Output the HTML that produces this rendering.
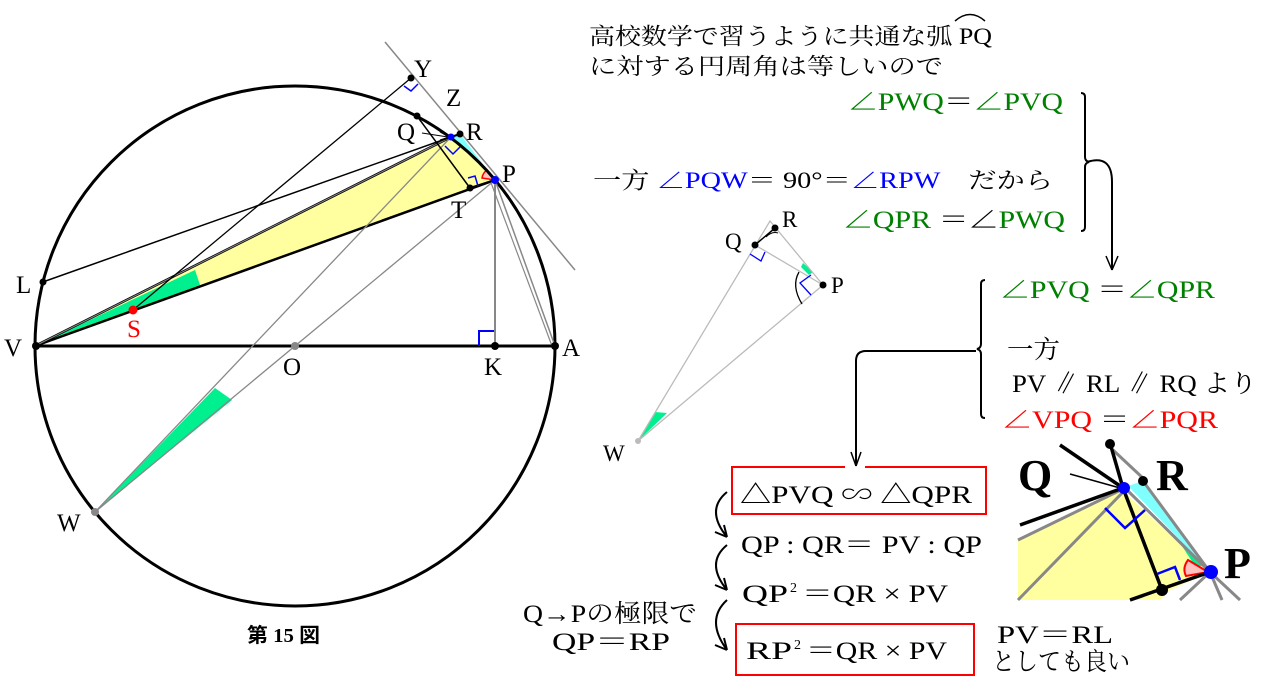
<!DOCTYPE html>
<html><head><meta charset="utf-8"><style>
body{margin:0;background:#fff;}
svg{display:block;}
text{font-family:"Liberation Serif","Noto Serif CJK SC",serif;}
.j{font-family:"Liberation Serif","Noto Sans CJK JP",sans-serif;}
</style></head><body>
<svg width="1269" height="696" viewBox="0 0 1269 696" xmlns="http://www.w3.org/2000/svg">
<!-- main figure -->
<polygon points="35,346 451,137 495,180" fill="#ffffa0"/>
<polygon points="35,346 195,270 200,285" fill="#00f090"/>
<polygon points="451,137 460,134 495,180" fill="#80ffff"/>
<polygon points="95,512 215,388 232,400" fill="#00f090"/>
<path d="M482,178 a12,12 0 0 1 5,-8 L495,180 Z" fill="#ffc0c0" stroke="red" stroke-width="1.5"/>
<circle cx="295" cy="346" r="260" fill="none" stroke="#000" stroke-width="3"/>
<line x1="35" y1="346" x2="555" y2="346" stroke="#000" stroke-width="3"/>
<line x1="385" y1="42" x2="575" y2="270" stroke="#888" stroke-width="1.5"/>
<line x1="35" y1="346" x2="451" y2="137" stroke="#000" stroke-width="2.5"/>
<line x1="35" y1="346" x2="495" y2="180" stroke="#000" stroke-width="2.5"/>
<line x1="35" y1="346" x2="451" y2="137" stroke="#888" stroke-width="1"/>
<line x1="40" y1="283" x2="451" y2="137" stroke="#000" stroke-width="1.5"/>
<line x1="133" y1="310" x2="411" y2="78" stroke="#000" stroke-width="1.3"/>
<line x1="95" y1="512" x2="451" y2="137" stroke="#888" stroke-width="1.3"/>
<line x1="95" y1="512" x2="495" y2="180" stroke="#888" stroke-width="1.3"/>
<line x1="495" y1="180" x2="495" y2="346" stroke="#888" stroke-width="2"/>
<line x1="495" y1="180" x2="555" y2="346" stroke="#888" stroke-width="1.5"/>
<line x1="490" y1="180" x2="552" y2="346" stroke="#888" stroke-width="1.2"/>
<line x1="417" y1="116" x2="470" y2="188" stroke="#000" stroke-width="1.5"/>
<line x1="451" y1="137" x2="460" y2="134" stroke="#000" stroke-width="2"/>
<line x1="470" y1="188" x2="495" y2="180" stroke="#000" stroke-width="2"/>
<line x1="422" y1="133" x2="448" y2="137" stroke="#000" stroke-width="1"/>
<path d="M440,132 L449,137 L440,140" fill="none" stroke="#000" stroke-width="1"/>
<polyline points="404,86 411,91 418,84" fill="none" stroke="blue" stroke-width="1.5"/>
<polyline points="445,146 453,154 460,147" fill="none" stroke="blue" stroke-width="1.5"/>
<polyline points="468,178 475,176 478,186" fill="none" stroke="blue" stroke-width="1.5"/>
<path d="M479,346 V331 H494" fill="none" stroke="blue" stroke-width="2"/>
<g fill="#000">
<circle cx="411" cy="78" r="3.5"/><circle cx="417" cy="116" r="3.5"/><circle cx="460" cy="134" r="3.5"/>
<circle cx="470" cy="188" r="3.5"/><circle cx="495" cy="346" r="4"/><circle cx="555" cy="346" r="4"/>
<circle cx="36" cy="346" r="4"/><circle cx="43" cy="282" r="3.5"/></g>
<circle cx="451" cy="137" r="3.5" fill="blue"/><circle cx="495" cy="180" r="4" fill="blue"/>
<circle cx="133" cy="310" r="4.5" fill="red"/>
<circle cx="295" cy="346" r="4" fill="#888"/><circle cx="95" cy="512" r="4" fill="#888"/>
<g font-size="25" fill="#000">
<text x="414" y="77">Y</text><text x="446" y="106">Z</text><text x="397" y="140">Q</text><text x="466" y="140">R</text>
<text x="502" y="182">P</text><text x="451" y="218">T</text><text x="16" y="293">L</text><text x="4" y="356">V</text>
<text x="283" y="375">O</text><text x="484" y="375">K</text><text x="562" y="356">A</text><text x="57" y="531">W</text>
<text x="127" y="337" fill="red">S</text></g>
<text x="247" y="642" font-size="20" font-weight="bold" class="j" textLength="73" lengthAdjust="spacingAndGlyphs">第 15 図</text>

<!-- middle small triangle -->
<polygon points="638,441 655,412 667,413" fill="#00f090"/>
<polygon points="801,267 803,263 813,272 809,275" fill="#00f090"/>
<g stroke="#bbb" stroke-width="1.3" fill="none">
<polyline points="638,441 770,221 823,285 638,441"/>
<line x1="755" y1="245" x2="823" y2="285"/></g>
<line x1="755" y1="245" x2="775" y2="228" stroke="#000" stroke-width="1.5"/>
<path d="M766,237 q6,-6 12,-4" fill="none" stroke="#000"/>
<path d="M799,272 q-8,14 3,32" fill="none" stroke="#000" stroke-width="1.3"/>
<polyline points="750,254 761,261 765,252" fill="none" stroke="blue" stroke-width="1.3"/>
<polyline points="811,275 800,283 811,295" fill="none" stroke="blue" stroke-width="1.3"/>
<circle cx="755" cy="245" r="3.5"/><circle cx="775" cy="228" r="3.5"/><circle cx="823" cy="285" r="3.5"/>
<circle cx="638" cy="441" r="3" fill="#bbb"/>
<g font-size="23"><text x="725" y="249">Q</text><text x="782" y="227">R</text><text x="831" y="293">P</text><text x="603" y="461">W</text></g>

<!-- texts -->
<g class="j" font-size="23">
<text x="589" y="44" textLength="403" lengthAdjust="spacingAndGlyphs">高校数学で習うように共通な弧 PQ</text>
<text x="589" y="74" textLength="354" lengthAdjust="spacingAndGlyphs">に対する円周角は等しいので</text>
<text x="593" y="188" textLength="460" lengthAdjust="spacingAndGlyphs">一方 <tspan fill="blue">∠PQW</tspan>＝ 90°＝<tspan fill="blue">∠RPW</tspan>　だから</text>
</g>
<path d="M955,21 q15,-13 30,0" fill="none" stroke="#000" stroke-width="1.5"/>
<g font-size="25" class="j">
<text x="848" y="110" fill="green" textLength="215" lengthAdjust="spacingAndGlyphs">∠PWQ<tspan fill="#000">＝</tspan>∠PVQ</text>
<text x="843" y="228" fill="green" textLength="222" lengthAdjust="spacingAndGlyphs">∠QPR <tspan fill="#000">＝∠</tspan>PWQ</text>
<text x="1000" y="298" fill="green" textLength="215" lengthAdjust="spacingAndGlyphs">∠PVQ <tspan fill="#000">＝</tspan>∠QPR</text>
<text x="1007" y="358" fill="#000" textLength="53" lengthAdjust="spacingAndGlyphs">一方</text>
<text x="1012" y="392" fill="#000" textLength="245" lengthAdjust="spacingAndGlyphs">PV ∥ RL ∥ RQ より</text>
<text x="1002" y="428" fill="red" textLength="216" lengthAdjust="spacingAndGlyphs">∠VPQ <tspan fill="#000">＝</tspan>∠PQR</text>
<text x="740" y="503" textLength="232" lengthAdjust="spacingAndGlyphs">△PVQ ∽ △QPR</text>
<text x="741" y="553" textLength="241" lengthAdjust="spacingAndGlyphs">QP : QR＝ PV : QP</text>
<text x="742" y="602" textLength="46" lengthAdjust="spacingAndGlyphs">QP</text>
<text x="790" y="592" font-size="14">2</text>
<text x="802" y="602" textLength="146" lengthAdjust="spacingAndGlyphs">＝QR × PV</text>
<text x="746" y="659" textLength="46" lengthAdjust="spacingAndGlyphs">RP</text>
<text x="794" y="649" font-size="14">2</text>
<text x="806" y="659" textLength="141" lengthAdjust="spacingAndGlyphs">＝QR × PV</text>
<text x="523" y="622" textLength="174" lengthAdjust="spacingAndGlyphs">Q→Pの極限で</text>
<text x="552" y="650" textLength="118" lengthAdjust="spacingAndGlyphs">QP＝RP</text>
<text x="997" y="643" textLength="116" lengthAdjust="spacingAndGlyphs">PV＝RL</text>
<text x="992" y="670" textLength="138" lengthAdjust="spacingAndGlyphs">としても良い</text>
</g>
<rect x="732" y="467" width="254" height="47" fill="none" stroke="red" stroke-width="2"/>
<rect x="736" y="624" width="238" height="51" fill="none" stroke="red" stroke-width="2"/>
<rect x="845" y="462" width="20" height="8" fill="#fff"/>
<!-- brackets and arrows -->
<g fill="none" stroke="#000" stroke-width="2">
<path d="M1081,93 q4,0 4,4 v60 q0,4 4,5 q-4,1 -4,5 v60 q0,4 -4,4"/>
<path d="M1087,162 q25,-8 25,20 v88"/>
<path d="M1112,270 l-6,-14 M1112,270 l6,-14" stroke-width="1.5"/>
<path d="M985,280 q-4,0 -4,4 v60 q0,4 -4,5 q4,1 4,5 v60 q0,4 4,4"/>
<path d="M976,351 h-110 q-10,0 -10,10 v105"/>
<path d="M856,466 l-5,-14 M856,466 l5,-14" stroke-width="1.5"/>
<path d="M727,492 q-22,18 0,45 m0,0 l-12,-5 m12,5 l-3,-12"/>
<path d="M727,545 q-22,18 0,45 m0,0 l-12,-5 m12,5 l-3,-12"/>
<path d="M727,600 q-22,20 0,50 m0,0 l-12,-5 m12,5 l-3,-12"/>
</g>

<!-- inset -->
<polygon points="1018,540 1122,490 1210,572 1170,590 1160,600 1018,600" fill="#ffffa0"/>
<polygon points="1128,486 1143,481 1205,566" fill="#80ffff"/>
<polygon points="1180,543 1205,566 1195,566" fill="#00f090"/>
<path d="M1188,560 q-6,8 -2,16 L1208,572 Z" fill="#ffc0c0" stroke="red" stroke-width="2"/>
<g stroke="#888" stroke-width="3" fill="none">
<line x1="1018" y1="540" x2="1125" y2="488"/>
<line x1="1018" y1="600" x2="1125" y2="490"/>
<line x1="1113" y1="450" x2="1145" y2="480"/>
<line x1="1125" y1="488" x2="1210" y2="572"/>
<line x1="1143" y1="481" x2="1210" y2="572"/>
<line x1="1180" y1="600" x2="1210" y2="572"/>
<line x1="1210" y1="572" x2="1240" y2="600"/>
<line x1="1210" y1="572" x2="1222" y2="600"/>
</g>
<g stroke="#000" stroke-width="3.5" fill="none">
<line x1="1060" y1="445" x2="1123" y2="488"/>
<line x1="1020" y1="525" x2="1123" y2="488"/>
<line x1="1110" y1="443" x2="1123" y2="488"/>
<line x1="1123" y1="488" x2="1162" y2="590"/>
<line x1="1130" y1="600" x2="1210" y2="572"/>
</g>
<line x1="1070" y1="474" x2="1120" y2="488" stroke="#000" stroke-width="1.5"/>
<polyline points="1105,508 1125,528 1145,510" fill="none" stroke="blue" stroke-width="2.5"/>
<polyline points="1157,574 1175,567 1180,580" fill="none" stroke="blue" stroke-width="2.5"/>
<circle cx="1110" cy="444" r="5"/><circle cx="1143" cy="481" r="5"/><circle cx="1162" cy="590" r="6"/>
<circle cx="1124" cy="488" r="6" fill="blue"/><circle cx="1211" cy="572" r="7" fill="blue"/>
<g font-size="44" font-weight="bold"><text x="1018" y="490">Q</text><text x="1156" y="490">R</text><text x="1224" y="578">P</text></g>
</svg>
</body></html>
